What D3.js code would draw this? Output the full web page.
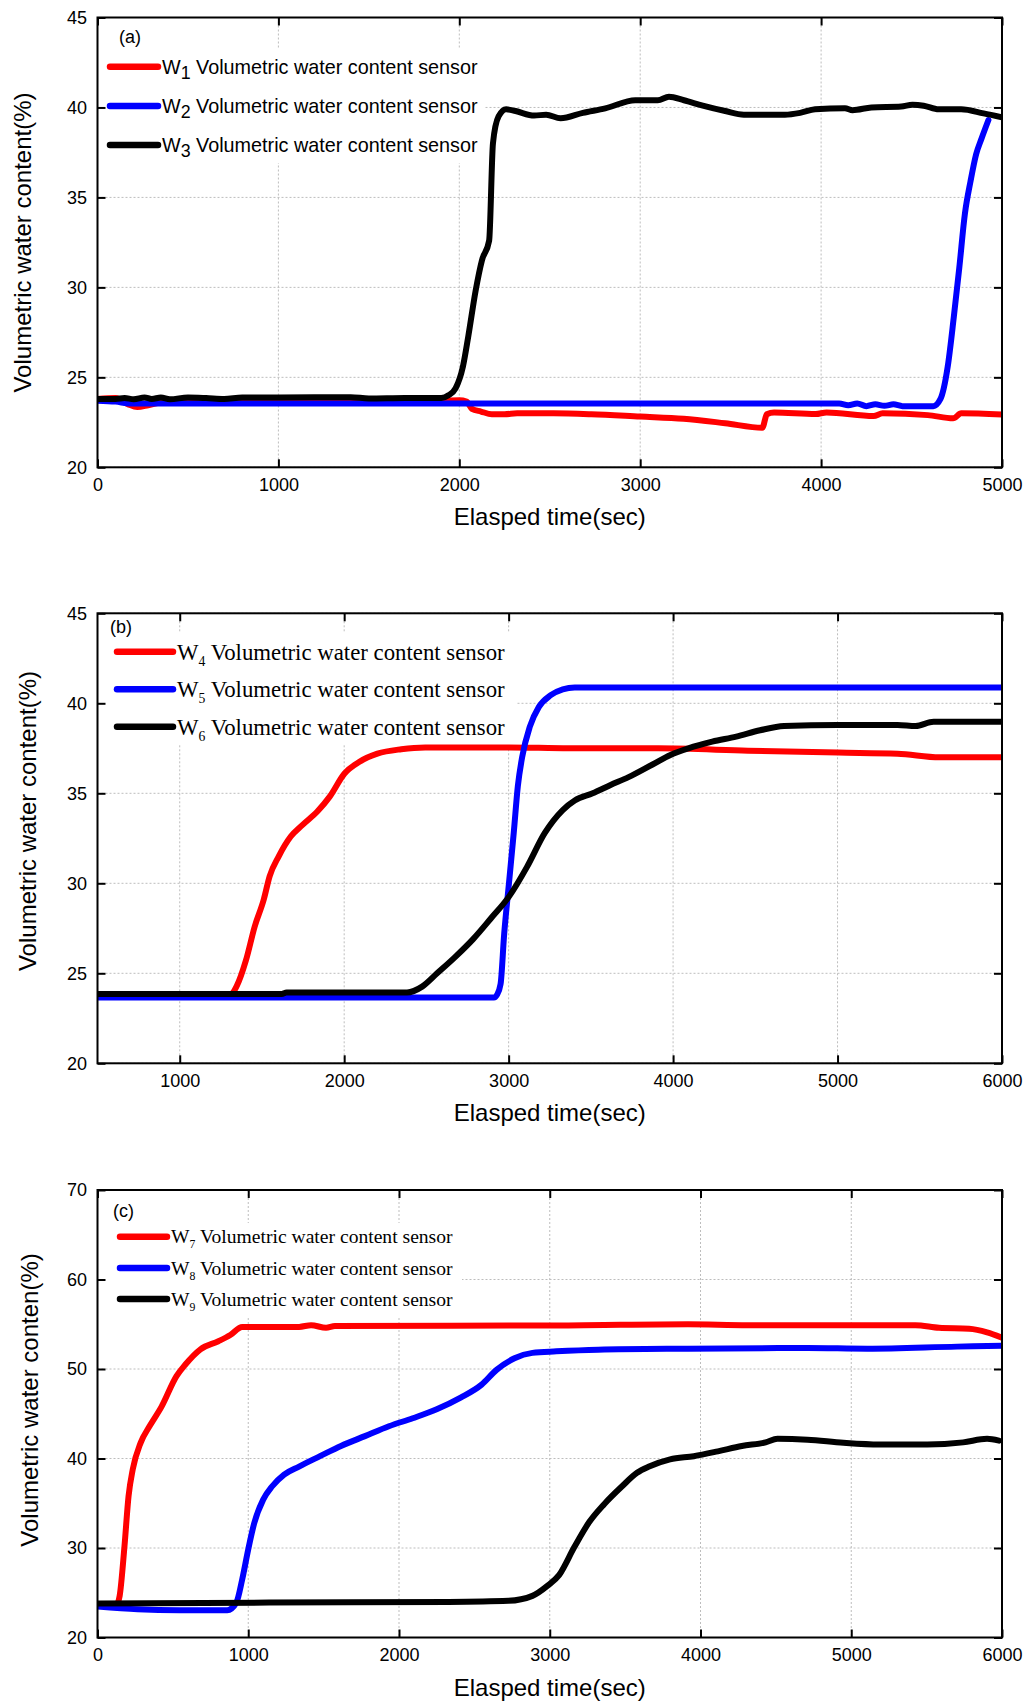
<!DOCTYPE html>
<html><head><meta charset="utf-8">
<script src="https://cdn.jsdelivr.net/npm/d3@7"></script>
<style>body{margin:0;background:#fff}svg{display:block}</style>
</head><body>
<svg id="chart" width="1027" height="1706"></svg>
<script>
// ---------- Panel (a) ----------
const aXTicks = [0, 1000, 2000, 3000, 4000, 5000];
const aYTicks = [20, 25, 30, 35, 40, 45];
const w1Time = [0, 100, 170, 220, 280, 350, 500, 1000, 1500, 1900, 2000, 2040, 2070, 2120, 2180, 2250, 2320, 2520, 2730, 3000, 3240, 3470, 3675, 3700, 3740, 3970, 4030, 4290, 4340, 4590, 4730, 4775, 5000];
const w1Value = [23.8, 23.85, 23.5, 23.35, 23.45, 23.6, 23.65, 23.7, 23.7, 23.7, 23.72, 23.65, 23.25, 23.1, 22.95, 22.95, 23.0, 23.0, 22.95, 22.82, 22.7, 22.45, 22.2, 22.95, 23.05, 22.96, 23.05, 22.85, 23.0, 22.9, 22.72, 23.0, 22.93];
const w2Time = [0, 100, 180, 400, 1000, 2000, 3000, 4100, 4150, 4200, 4250, 4300, 4350, 4400, 4450, 4620, 4660, 4700, 4733, 4764, 4795, 4826, 4857, 4888, 4925];
const w2Value = [23.7, 23.65, 23.55, 23.55, 23.55, 23.55, 23.55, 23.55, 23.45, 23.55, 23.4, 23.5, 23.42, 23.5, 23.4, 23.4, 23.8, 25.6, 28.3, 31.1, 34.1, 35.9, 37.4, 38.3, 39.3];
const w3Time = [0, 100, 150, 200, 260, 300, 350, 400, 500, 600, 700, 800, 1000, 1400, 1500, 1700, 1900, 1940, 1980, 2020, 2050, 2090, 2125, 2165, 2186, 2217, 2259, 2311, 2414, 2480, 2560, 2683, 2807, 2973, 3097, 3159, 3242, 3346, 3470, 3573, 3800, 3884, 3967, 4132, 4174, 4278, 4443, 4505, 4567, 4650, 4774, 4898, 5000];
const w3Value = [23.8, 23.8, 23.85, 23.78, 23.88, 23.8, 23.88, 23.78, 23.88, 23.85, 23.8, 23.88, 23.88, 23.9, 23.82, 23.85, 23.85, 24.0, 24.4, 25.6, 27.3, 29.8, 31.5, 32.6, 38.0, 39.5, 39.9, 39.8, 39.55, 39.6, 39.4, 39.7, 39.95, 40.4, 40.4, 40.6, 40.4, 40.1, 39.8, 39.6, 39.6, 39.7, 39.9, 39.96, 39.85, 40.0, 40.05, 40.15, 40.1, 39.9, 39.9, 39.67, 39.45];

// ---------- Panel (b) ----------
const bXTicks = [1000, 2000, 3000, 4000, 5000, 6000];
const bYTicks = [20, 25, 30, 35, 40, 45];
const w4Time = [500, 1000, 1311, 1347, 1402, 1456, 1511, 1547, 1602, 1675, 1747, 1838, 1911, 2002, 2093, 2202, 2347, 2493, 3002, 3365, 3910, 4456, 5002, 5365, 5620, 6000];
const w4Value = [23.85, 23.85, 23.85, 24.3, 25.7, 27.6, 29.1, 30.4, 31.5, 32.6, 33.25, 34.0, 34.8, 36.1, 36.75, 37.2, 37.45, 37.55, 37.55, 37.5, 37.5, 37.37, 37.26, 37.2, 37.0, 37.0];
const w5Time = [500, 2911, 2929, 2951, 2973, 3002, 3031, 3056, 3082, 3129, 3184, 3256, 3329, 3402, 6000];
const w5Value = [23.65, 23.65, 23.8, 24.4, 27.2, 30.0, 32.8, 35.4, 37.0, 38.7, 39.8, 40.45, 40.78, 40.88, 40.88];
const w6Time = [500, 1620, 1650, 2382, 2474, 2565, 2674, 2784, 2893, 3002, 3111, 3220, 3329, 3402, 3511, 3620, 3729, 3875, 3984, 4093, 4238, 4384, 4529, 4675, 5002, 5365, 5475, 5584, 6000];
const w6Value = [23.85, 23.85, 23.93, 23.93, 24.26, 25.0, 25.9, 26.9, 28.06, 29.26, 30.9, 32.8, 34.07, 34.6, 35.0, 35.46, 35.9, 36.6, 37.13, 37.5, 37.87, 38.15, 38.5, 38.74, 38.8, 38.8, 38.74, 38.98, 38.98];

// ---------- Panel (c) ----------
const cXTicks = [0, 1000, 2000, 3000, 4000, 5000, 6000];
const cYTicks = [20, 30, 40, 50, 60, 70];
const w7Time = [0, 127, 147, 179, 206, 234, 286, 345, 425, 524, 583, 683, 802, 881, 960, 1337, 1417, 1516, 1575, 3123, 3917, 4313, 4710, 5425, 5583, 5782, 5901, 6000];
const w7Value = [23.7, 23.7, 24.65, 30.2, 35.8, 38.8, 41.75, 43.6, 45.8, 49.2, 50.5, 52.2, 53.1, 53.8, 54.7, 54.7, 54.9, 54.6, 54.8, 54.87, 55.0, 54.9, 54.9, 54.9, 54.6, 54.5, 54.1, 53.5];
const w8Time = [0, 266, 544, 861, 921, 960, 1000, 1040, 1099, 1159, 1238, 1337, 1476, 1615, 1774, 1933, 2091, 2250, 2409, 2548, 2647, 2766, 2885, 3044, 3321, 3917, 4710, 5107, 5702, 6000];
const w8Value = [23.45, 23.15, 23.05, 23.05, 23.9, 26.5, 29.85, 32.8, 35.4, 36.9, 38.2, 39.1, 40.26, 41.4, 42.5, 43.6, 44.5, 45.5, 46.8, 48.25, 49.9, 51.2, 51.8, 51.97, 52.16, 52.27, 52.34, 52.27, 52.5, 52.6];
const w9Time = [0, 1139, 2329, 2726, 2885, 2984, 3063, 3163, 3262, 3361, 3480, 3579, 3659, 3798, 3956, 4115, 4274, 4432, 4511, 4710, 4948, 5187, 5504, 5742, 5901, 5980];
const w9Value = [23.8, 23.9, 23.98, 24.1, 24.65, 25.76, 27.0, 30.1, 32.9, 34.9, 36.9, 38.4, 39.1, 39.9, 40.26, 40.8, 41.4, 41.8, 42.2, 42.1, 41.75, 41.56, 41.56, 41.8, 42.2, 42.0];

const legendA = ["1", "2", "3"];
const legendB = ["4", "5", "6"];
const legendC = ["7", "8", "9"];
const seriesColors = ["#ff0000", "#0000ff", "#000000"];

const SANS = "'Liberation Sans', Arial, sans-serif";
const SERIF = "'Liberation Serif', 'Times New Roman', serif";

const panels = [
  { tag: "(a)", top: 17.5, bottom: 467.3, xDomain: [0, 5000], yDomain: [20, 45], xTicks: aXTicks, yTicks: aYTicks,
    series: [[w1Time, w1Value], [w2Time, w2Value], [w3Time, w3Value]], subs: legendA,
    yTitle: "Volumetric water content(%)", yTitleX: 22, yTitleY: 242.5,
    legend: { font: SANS, size: 19.8, subSize: 0.9, subDy: 5, lineX0: 110, lineX1: 158, textX: 162, ys: [66.7, 106, 145], baseOff: 7, box: [100, 48, 484, 163] },
    tagPos: [119, 43] },
  { tag: "(b)", top: 613.3, bottom: 1063.3, xDomain: [500, 6000], yDomain: [20, 45], xTicks: bXTicks, yTicks: bYTicks,
    series: [[w4Time, w4Value], [w5Time, w5Value], [w6Time, w6Value]], subs: legendB,
    yTitle: "Volumetric water content(%)", yTitleX: 27, yTitleY: 821,
    legend: { font: SERIF, size: 22.8, subSize: 0.6, subDy: 6, lineX0: 117, lineX1: 173, textX: 177, ys: [651.7, 689.3, 726.7], baseOff: 8, box: [100, 633, 516, 745] },
    tagPos: [110, 633] },
  { tag: "(c)", top: 1190, bottom: 1637.5, xDomain: [0, 6000], yDomain: [20, 70], xTicks: cXTicks, yTicks: cYTicks,
    series: [[w7Time, w7Value], [w8Time, w8Value], [w9Time, w9Value]], subs: legendC,
    yTitle: "Volumetric water conten(%)", yTitleX: 29, yTitleY: 1400,
    legend: { font: SERIF, size: 19.6, subSize: 0.6, subDy: 5, lineX0: 120, lineX1: 167, textX: 171, ys: [1236.7, 1268, 1299], baseOff: 6.6, box: [100, 1223, 462, 1317] },
    tagPos: [113, 1217] }
];

const LEFT = 97.5, RIGHT = 1002;
const svg = d3.select("#chart");

panels.forEach((p, pi) => {
  const x = d3.scaleLinear().domain(p.xDomain).range([LEFT, RIGHT]);
  const y = d3.scaleLinear().domain(p.yDomain).range([p.bottom, p.top]);
  const g = svg.append("g");

  // gridlines
  g.append("g").selectAll("line.gx").data(p.xTicks).join("line")
    .attr("x1", d => x(d)).attr("x2", d => x(d)).attr("y1", p.top).attr("y2", p.bottom)
    .attr("stroke", "#bdbdbd").attr("stroke-width", 1).attr("stroke-dasharray", "2,2");
  g.append("g").selectAll("line.gy").data(p.yTicks).join("line")
    .attr("x1", LEFT).attr("x2", RIGHT).attr("y1", d => y(d)).attr("y2", d => y(d))
    .attr("stroke", "#bdbdbd").attr("stroke-width", 1).attr("stroke-dasharray", "2,2");

  // legend background box
  const L = p.legend;
  g.append("rect").attr("x", L.box[0]).attr("y", L.box[1])
    .attr("width", L.box[2] - L.box[0]).attr("height", L.box[3] - L.box[1]).attr("fill", "#fff");

  // clip
  const cid = "clip" + pi;
  svg.append("clipPath").attr("id", cid).append("rect")
    .attr("x", LEFT).attr("y", p.top).attr("width", RIGHT - LEFT).attr("height", p.bottom - p.top);

  const line = d3.line().x(d => x(d[0])).y(d => y(d[1])).curve(d3.curveMonotoneX);
  p.series.forEach((s, si) => {
    const pts = s[0].map((t, i) => [t, s[1][i]]);
    g.append("path").datum(pts).attr("d", line)
      .attr("fill", "none").attr("stroke", seriesColors[si]).attr("stroke-width", 6)
      .attr("stroke-linejoin", "round").attr("stroke-linecap", "round")
      .attr("clip-path", `url(#${cid})`);
  });

  // axes
  const ax = g.append("g").attr("transform", `translate(0,${p.bottom})`)
    .call(d3.axisBottom(x).tickValues(p.xTicks).tickSizeInner(-8).tickSizeOuter(0).tickPadding(10.5).tickFormat(d3.format("d")));
  const ay = g.append("g").attr("transform", `translate(${LEFT},0)`)
    .call(d3.axisLeft(y).tickValues(p.yTicks).tickSizeInner(-8).tickSizeOuter(0).tickPadding(10.5).tickFormat(d3.format("d")));
  const at = g.append("g").attr("transform", `translate(0,${p.top})`)
    .call(d3.axisTop(x).tickValues(p.xTicks).tickSizeInner(-8).tickSizeOuter(0).tickFormat(""));
  const ar = g.append("g").attr("transform", `translate(${RIGHT},0)`)
    .call(d3.axisRight(y).tickValues(p.yTicks).tickSizeInner(-8).tickSizeOuter(0).tickFormat(""));
  [ax, ay, at, ar].forEach(a => {
    a.select(".domain").remove();
    a.selectAll("line").attr("stroke", "#000").attr("stroke-width", 2);
    a.attr("font-family", SANS).attr("font-size", 18);
    a.selectAll("text").attr("fill", "#000");
  });

  // frame
  g.append("rect").attr("x", LEFT).attr("y", p.top).attr("width", RIGHT - LEFT).attr("height", p.bottom - p.top)
    .attr("fill", "none").attr("stroke", "#000").attr("stroke-width", 2);

  // axis titles
  g.append("text").attr("x", (LEFT + RIGHT) / 2).attr("y", p.bottom + 58)
    .attr("text-anchor", "middle").attr("font-family", SANS).attr("font-size", 24).text("Elasped time(sec)");
  g.append("text").attr("transform", `translate(${p.yTitleX},${p.yTitleY}) rotate(-90)`)
    .attr("text-anchor", "middle").attr("dominant-baseline", "central")
    .attr("font-family", SANS).attr("font-size", 24).text(p.yTitle);

  // panel tag
  g.append("text").attr("x", p.tagPos[0]).attr("y", p.tagPos[1])
    .attr("font-family", SANS).attr("font-size", 18).text(p.tag);

  // legend
  p.subs.forEach((sub, i) => {
    const ly = L.ys[i];
    g.append("line").attr("x1", L.lineX0).attr("x2", L.lineX1).attr("y1", ly).attr("y2", ly)
      .attr("stroke", seriesColors[i]).attr("stroke-width", 6.5).attr("stroke-linecap", "round");
    const t = g.append("text").attr("x", L.textX).attr("y", ly + L.baseOff)
      .attr("font-family", L.font).attr("font-size", L.size);
    t.append("tspan").text("W");
    t.append("tspan").attr("dy", L.subDy).attr("font-size", L.size * L.subSize).text(sub);
    t.append("tspan").attr("dy", -L.subDy).text(" Volumetric water content sensor");
  });
});
</script>
</body></html>
